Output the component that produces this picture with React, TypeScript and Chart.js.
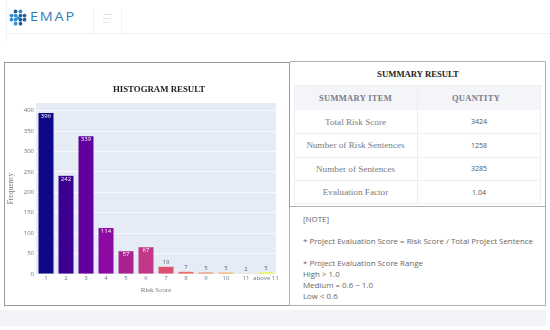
import React, { useEffect, useRef } from "react";
import { Chart, registerables } from "chart.js";

Chart.register(...registerables);

const categories = ["1", "2", "3", "4", "5", "6", "7", "8", "9", "10", "11", "above 11"];
const frequency = [396, 242, 339, 114, 57, 67, 19, 7, 5, 5, 2, 5];
const barColors = ["#0d0887", "#3b0091", "#62009e", "#8a0aa3", "#a82290", "#c2378a", "#dc5070", "#ef6a60", "#f8855a", "#fdaa40", "#fcd02c", "#f0f921"];
const yTicks = [0, 50, 100, 150, 200, 250, 300, 350, 400];
const summaryItems = ["Total Risk Score", "Number of Risk Sentences", "Number of Sentences", "Evaluation Factor"];
const summaryValues = ["3424", "1258", "3285", "1.04"];
const noteLines = ["* Project Evaluation Score Range", "High > 1.0", "Medium = 0.6 ~ 1.0", "Low < 0.6"];
const logoDots = [[3, 8], [8, 3], [14, 3], [19, 8], [8, 8], [14, 8], [3, 13], [19, 13], [8, 13], [14, 13], [8, 18], [14, 18], [11, 11]];

const SANS = "'Open Sans', sans-serif";
const BOOK = "'Liberation Serif', serif";

const plotBackground = {
  id: "plotBackground",
  beforeDraw(chart: any) {
    const { ctx, chartArea: a } = chart;
    ctx.save();
    ctx.fillStyle = "#e5ecf6";
    ctx.fillRect(a.left, a.top, a.right - a.left, a.bottom - a.top);
    ctx.restore();
  },
};

const barLabels = {
  id: "barLabels",
  afterDatasetsDraw(chart: any) {
    const { ctx } = chart;
    const meta = chart.getDatasetMeta(0);
    ctx.save();
    ctx.font = `6px ${SANS}`;
    ctx.textAlign = "center";
    frequency.forEach((v, i) => {
      const el = meta.data[i];
      const inside = v > 50;
      ctx.fillStyle = inside ? "#ffffff" : "#5a6478";
      ctx.textBaseline = inside ? "top" : "bottom";
      ctx.fillText(String(v), el.x, inside ? el.y + 1 : el.y - 1);
    });
    ctx.restore();
  },
};

function Cell({ children, style }: any) {
  return (
    <div style={{ position: "absolute", display: "flex", alignItems: "center", justifyContent: "center", boxSizing: "border-box", whiteSpace: "nowrap", ...style }}>
      {children}
    </div>
  );
}

export default function App() {
  const ref = useRef<HTMLCanvasElement>(null);
  useEffect(() => {
    document.body.style.margin = "0";
    const chart = new Chart(ref.current!, {
      type: "bar",
      data: {
        labels: categories,
        datasets: [{
          data: frequency,
          backgroundColor: barColors,
          borderColor: "rgba(255,255,255,0.25)",
          borderWidth: 0.5,
          barPercentage: 0.8,
          categoryPercentage: 1,
        }],
      },
      options: {
        animation: false,
        responsive: false,
        layout: { padding: { left: 3, right: 14, top: 103, bottom: 0 } },
        plugins: {
          legend: { display: false },
          tooltip: { enabled: false },
        },
        scales: {
          x: {
            grid: { display: false, drawTicks: false },
            border: { display: false },
            afterFit(s: any) { s.height = 20; },
            ticks: { color: "#6b7588", font: { family: SANS, size: 6 }, maxRotation: 0, autoSkip: false, padding: 1 },
            title: { display: true, text: "Risk Score", color: "#777777", font: { family: BOOK, size: 7 }, padding: { top: 2, bottom: 0 } },
          },
          y: {
            min: 0,
            max: 419,
            afterFit(s: any) { s.width = 33; },
            afterBuildTicks(s: any) { s.ticks = yTicks.map((value) => ({ value })); },
            grid: { color: "#ffffff", lineWidth: 0.7, drawTicks: false },
            border: { display: false },
            ticks: { color: "#6b7588", font: { family: SANS, size: 6 }, padding: 2 },
            title: { display: true, text: "Frequency", color: "#777777", font: { family: BOOK, size: 7.5 }, padding: { bottom: 0 } },
          },
        },
      } as any,
      plugins: [plotBackground, barLabels],
    });
    return () => chart.destroy();
  }, []);

  const rowTops = [110, 133, 157, 180];
  const rowHeights = [23, 24, 23, 24];

  return (
    <div style={{ position: "relative", width: 550, height: 330, background: "#ffffff", overflow: "hidden", filter: "blur(0.5px)" }}>
      {/* top bar */}
      <div style={{ position: "absolute", left: 6, top: 33, width: 544, height: 1, background: "#eef1f7" }} />
      <div style={{ position: "absolute", left: 6, top: 0, width: 1, height: 41, background: "#eef1f7" }} />
      <div style={{ position: "absolute", left: 93, top: 8, width: 1, height: 25, background: "#f1f3f8" }} />
      <div style={{ position: "absolute", left: 121, top: 8, width: 1, height: 25, background: "#f1f3f8" }} />
      {[14, 18, 22].map((t, i) => (
        <div key={t} style={{ position: "absolute", left: 103, top: t, width: i === 2 ? 6 : 9, height: 1, background: "#dfe4ee" }} />
      ))}
      <svg style={{ position: "absolute", left: 9, top: 9 }} width="18" height="18" viewBox="0 0 22 22">
        {logoDots.map(([x, y], i) => (
          <circle key={i} cx={x} cy={y} r={i === 12 ? 2 : 2.3} fill={i % 2 ? "#1f5f9e" : "#2f8fd0"} />
        ))}
      </svg>
      <div style={{ position: "absolute", left: 30, top: 9, fontFamily: SANS, fontSize: 12, lineHeight: "16px", letterSpacing: 1.5, color: "#2f7dbb", transform: "scaleX(1.2)", transformOrigin: "left" }}>EMAP</div>

      {/* panels */}
      <div style={{ position: "absolute", left: 4, top: 62, width: 286, height: 244, border: "1px solid #9a9a9a", boxSizing: "border-box" }} />
      <div style={{ position: "absolute", left: 290, top: 61, width: 256, height: 146, borderTop: "1px solid #b0b0b0", borderRight: "1px solid #b0b0b0", borderBottom: "1px solid #b0b0b0", boxSizing: "border-box" }} />
      <div style={{ position: "absolute", left: 289, top: 207, width: 257, height: 99, borderLeft: "1px solid #b0b0b0", borderRight: "1px solid #b0b0b0", borderBottom: "1px solid #b0b0b0", boxSizing: "border-box" }} />
      <div style={{ position: "absolute", left: 0, top: 310, width: 546, height: 16, background: "#f3f4fa" }} />

      <canvas ref={ref} width={290} height={294} style={{ position: "absolute", left: 0, top: 0, display: "block" }} />

      <Cell style={{ left: 113, top: 82, width: 92, height: 14, fontFamily: BOOK, fontWeight: "bold", fontSize: 8.8, color: "#222222" }}>HISTOGRAM RESULT</Cell>

      {/* summary */}
      <Cell style={{ left: 290, top: 66, width: 256, height: 15, fontFamily: BOOK, fontWeight: "bold", fontSize: 8.7, color: "#222222" }}>SUMMARY RESULT</Cell>
      <div style={{ position: "absolute", left: 294, top: 85, width: 247, height: 25, background: "#f3f5f9" }} />
      <div style={{ position: "absolute", left: 294, top: 85, width: 247, height: 119, border: "1px solid #eceef3", boxSizing: "border-box" }} />
      <div style={{ position: "absolute", left: 417, top: 85, width: 1, height: 119, background: "#eceef3" }} />
      <Cell style={{ left: 294, top: 85, width: 123, height: 25, fontFamily: BOOK, fontWeight: "bold", fontSize: 8.5, letterSpacing: 0.3, color: "#777c88" }}>SUMMARY ITEM</Cell>
      <Cell style={{ left: 414, top: 85, width: 124, height: 25, fontFamily: BOOK, fontWeight: "bold", fontSize: 8.5, letterSpacing: 0.3, color: "#777c88" }}>QUANTITY</Cell>
      {summaryItems.map((item, i) => (
        <React.Fragment key={item}>
          {i > 0 && <div style={{ position: "absolute", left: 294, top: rowTops[i], width: 247, height: 1, background: "#eceef3" }} />}
          <Cell style={{ left: 294, top: rowTops[i], width: 123, height: rowHeights[i], fontFamily: BOOK, fontSize: 9.2, color: "#7c7c7c" }}>{item}</Cell>
          <Cell style={{ left: 417, top: rowTops[i], width: 124, height: rowHeights[i], fontFamily: SANS, fontSize: 7, color: "#4b5568" }}>{summaryValues[i]}</Cell>
        </React.Fragment>
      ))}

      {/* note */}
      <div style={{ position: "absolute", left: 303, top: 214, fontFamily: SANS, fontSize: 7.9, lineHeight: "11px", color: "#666666", whiteSpace: "nowrap" }}>[NOTE]</div>
      <div style={{ position: "absolute", left: 303, top: 236, fontFamily: SANS, fontSize: 7.9, lineHeight: "11px", color: "#666666", whiteSpace: "nowrap" }}>* Project Evaluation Score = Risk Score / Total Project Sentence</div>
      <div style={{ position: "absolute", left: 303, top: 258, fontFamily: SANS, fontSize: 7.9, lineHeight: "11px", color: "#666666", whiteSpace: "nowrap" }}>
        {noteLines.map((l) => <div key={l}>{l}</div>)}
      </div>
    </div>
  );
}
